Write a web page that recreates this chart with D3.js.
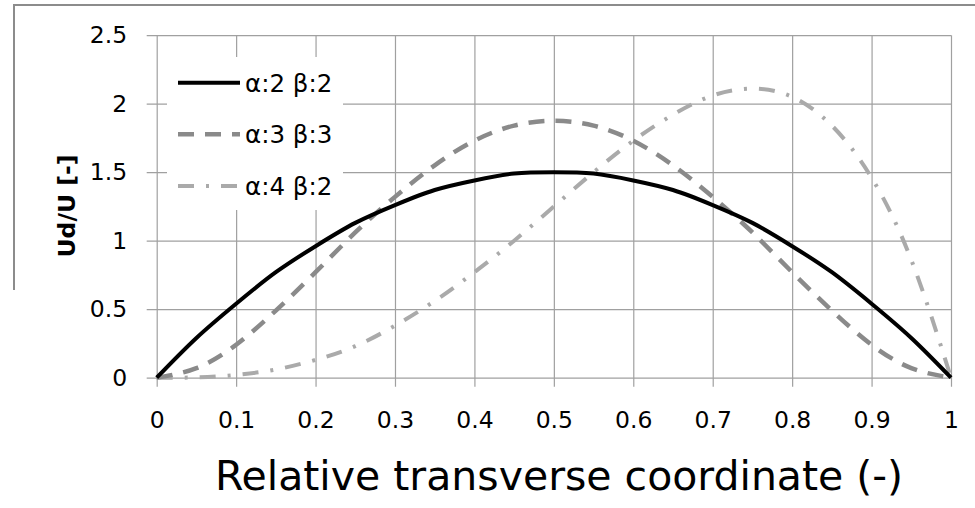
<!DOCTYPE html>
<html>
<head>
<meta charset="utf-8">
<script src="https://cdn.jsdelivr.net/npm/d3@7"></script>
<style>
  body { margin: 0; background: #fff; }
  svg { display: block; font-family: "DejaVu Sans", Verdana, sans-serif; }
</style>
</head>
<body>
<script>
// values, x step 0.05
const xs = [0, 0.05, 0.1, 0.15, 0.2, 0.25, 0.3, 0.35, 0.4, 0.45, 0.5,
            0.55, 0.6, 0.65, 0.7, 0.75, 0.8, 0.85, 0.9, 0.95, 1]
const a2b2 = [0, 0.29, 0.54, 0.77, 0.96, 1.13, 1.26, 1.37, 1.44, 1.49, 1.5,
              1.49, 1.44, 1.37, 1.26, 1.13, 0.96, 0.77, 0.54, 0.29, 0]
const a3b3 = [0, 0.07, 0.24, 0.49, 0.77, 1.06, 1.32, 1.55, 1.73, 1.84, 1.875,
              1.84, 1.73, 1.55, 1.32, 1.06, 0.77, 0.49, 0.24, 0.07, 0]
const a4b2 = [0, 0.002, 0.02, 0.06, 0.13, 0.23, 0.38, 0.56, 0.77, 1.0, 1.25,
              1.5, 1.73, 1.92, 2.06, 2.11, 2.05, 1.84, 1.46, 0.86, 0]

const seriesNames = ["α:2 β:2", "α:3 β:3", "α:4 β:2"]
const xTicks = [0, 0.1, 0.2, 0.3, 0.4, 0.5, 0.6, 0.7, 0.8, 0.9, 1]
const yTicks = [0, 0.5, 1, 1.5, 2, 2.5]

const W = 975, H = 508
const plotL = 156.7, plotR = 951, plotT = 35.2, plotB = 377.7

const x = d3.scaleLinear().domain([0, 1]).range([plotL, plotR])
const y = d3.scaleLinear().domain([0, 2.5]).range([plotB, plotT])

const svg = d3.select("body").append("svg")
    .attr("width", W)
    .attr("height", H)

// outer frame (only top and part of left edge visible)
svg.append("path")
    .attr("d", `M14,290 L14,5 L${W},5`)
    .attr("fill", "none")
    .attr("stroke", "#8c8c8c")
    .attr("stroke-width", 2)

// y axis + horizontal grid
const yAxis = svg.append("g")
    .attr("transform", `translate(${plotL - 10},0)`)
    .call(d3.axisLeft(y).tickValues(yTicks)
        .tickFormat(d3.format("~g"))
        .tickSize(-(plotR - plotL + 10))
        .tickPadding(19.5))
yAxis.select(".domain").remove()

// x axis + vertical grid
const xAxis = svg.append("g")
    .attr("transform", `translate(0,${plotB + 9})`)
    .call(d3.axisBottom(x).tickValues(xTicks)
        .tickFormat(d3.format("~g"))
        .tickSize(-(plotB + 9 - plotT))
        .tickPadding(25))
xAxis.select(".domain").remove()

svg.selectAll(".tick line")
    .attr("stroke", "#a0a0a0")
    .attr("stroke-width", 1.2)
svg.selectAll(".tick text")
    .attr("font-size", 23.5)
    .attr("font-family", "DejaVu Sans")
    .attr("fill", "#000")

// legend area blanks the grid behind it
svg.append("rect")
    .attr("x", 167).attr("y", 57)
    .attr("width", 176).attr("height", 153)
    .attr("fill", "#fff")

const styles = [
    { color: "#000000", width: 4, dash: null },
    { color: "#8a8a8a", width: 4.5, dash: "16,11" },
    { color: "#aaaaaa", width: 4, dash: "16,12,3,12" }
]
const allSeries = [a2b2, a3b3, a4b2]

const line = d3.line()
    .x((d, i) => x(xs[i]))
    .y(d => y(d))
    .curve(d3.curveNatural)

// draw lighter series first so the black line sits on top
for (let s = allSeries.length - 1; s >= 0; s--) {
    svg.append("path")
        .datum(allSeries[s])
        .attr("d", line)
        .attr("fill", "none")
        .attr("stroke", styles[s].color)
        .attr("stroke-width", styles[s].width)
        .attr("stroke-dasharray", styles[s].dash)
}

// legend
const legendY = [82.7, 134.3, 186]
seriesNames.forEach((name, i) => {
    svg.append("line")
        .attr("x1", 178).attr("x2", 240)
        .attr("y1", legendY[i]).attr("y2", legendY[i])
        .attr("stroke", styles[i].color)
        .attr("stroke-width", styles[i].width)
        .attr("stroke-dasharray", styles[i].dash)
    svg.append("text")
        .attr("x", 245)
        .attr("y", legendY[i])
        .attr("dy", "0.36em")
        .attr("font-size", 24.5)
        .text(name)
})

// axis titles
svg.append("text")
    .attr("transform", "translate(75,206) rotate(-90)")
    .attr("text-anchor", "middle")
    .attr("font-size", 23.5)
    .attr("font-weight", "bold")
    .text("Ud/U [-]")

svg.append("text")
    .attr("x", 559)
    .attr("y", 490)
    .attr("text-anchor", "middle")
    .attr("font-size", 41)
    .text("Relative transverse coordinate (-)")
</script>
</body>
</html>
